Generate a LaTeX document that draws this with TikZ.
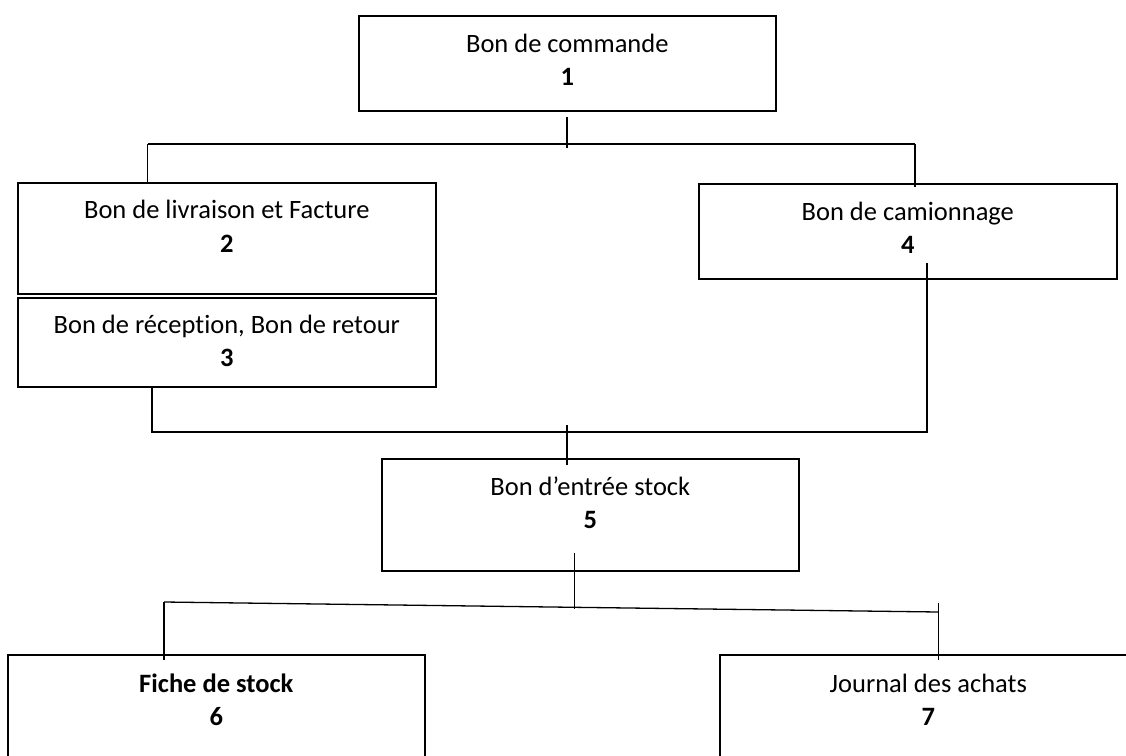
\documentclass[tikz,border=0pt]{standalone}
\usepackage{fontspec}
\setmainfont[Ligatures=NoCommon]{Carlito}
\begin{document}
\begin{tikzpicture}[x=1pt,y=-1pt,
  docbox/.style={draw, line width=1.6pt, rectangle, inner sep=0pt, anchor=north west},
  title/.style={anchor=base, inner sep=0pt, font=\fontsize{26.5}{33}\selectfont},
  num/.style={anchor=base, inner sep=0pt, font=\fontsize{26.5}{33}\selectfont\bfseries},
  conn/.style={line width=1.3pt}]
\useasboundingbox (0,0) rectangle (1126,755);
\clip (0,0) rectangle (1126,755);

% document boxes
\node[docbox, minimum width=417pt, minimum height=95pt]  (b1) at (358,15)  {};
\node[docbox, minimum width=418pt, minimum height=111pt] (b2) at (17,182)  {};
\node[docbox, minimum width=418pt, minimum height=89pt]  (b3) at (17,297)  {};
\node[docbox, minimum width=418pt, minimum height=95pt]  (b4) at (698,183) {};
\node[docbox, minimum width=417pt, minimum height=112pt] (b5) at (381,458) {};
\node[docbox, minimum width=417pt, minimum height=130pt] (b6) at (7,654)   {};
\node[docbox, minimum width=417pt, minimum height=130pt] (b7) at (719,654) {};

% titles and numbers
\node[title] (t1) at ([yshift=-37pt]b1.north) {Bon de commande};
\node[num]   (n1) at ([yshift=-70pt]b1.north) {1};
\node[title] (t2) at ([yshift=-36pt]b2.north) {Bon de livraison et Facture};
\node[num]   (n2) at ([yshift=-70pt]b2.north) {2};
\node[title] (t3) at ([yshift=-36pt]b3.north) {Bon de réception, Bon de retour};
\node[num]   (n3) at ([yshift=-69pt]b3.north) {3};
\node[title] (t4) at ([yshift=-37pt]b4.north) {Bon de camionnage};
\node[num]   (n4) at ([yshift=-70pt]b4.north) {4};
\node[title] (t5) at ([yshift=-37pt]b5.north) {Bon d’entrée stock};
\node[num]   (n5) at ([yshift=-70pt]b5.north) {5};
\node[title, font=\fontsize{26.5}{33}\selectfont\bfseries] (t6) at ([yshift=-38pt]b6.north) {Fiche de stock};
\node[num]   (n6) at ([yshift=-71pt]b6.north) {6};
\node[title] (t7) at ([yshift=-38pt]b7.north) {Journal des achats};
\node[num]   (n7) at ([yshift=-71pt]b7.north) {7};

% 1 -> 2 and 4
\coordinate (s1a) at (567,117);
\coordinate (s1b) at (567,148);
\coordinate (h1l) at (147.5,144);
\coordinate (h1r) at (915,144);
\draw[conn] (s1a) -- (s1b);
\draw[conn] (h1l) -- (h1r);
\draw[conn] (h1l) -- ([yshift=-2pt]h1l |- b2.north);
\draw[conn] (h1r) -- ([yshift=-4pt]h1r |- b4.north);

% 3 and 4 -> 5
\coordinate (h2l) at (152,432);
\coordinate (h2r) at (927,432);
\coordinate (s4a) at (927,263);
\coordinate (s2a) at (567,425);
\draw[conn] (h2l |- b3.south) -- (h2l) -- (h2r) -- (s4a);
\draw[conn] (s2a) -- ([yshift=-7pt]s2a |- b5.north);

% 5 -> 6 and 7
\coordinate (s5a) at (574.5,553);
\coordinate (s5b) at (574.5,609);
\coordinate (h3l) at (164,602);
\coordinate (h3r) at (938.5,612);
\coordinate (h3t) at (938.5,603);
\draw[conn] (s5a) -- (s5b);
\draw[conn] (h3l) -- (h3r);
\draw[conn] (h3l) -- ([yshift=-6pt]h3l |- b6.north);
\draw[conn] (h3t) -- ([yshift=-6pt]h3t |- b7.north);
\end{tikzpicture}
\end{document}
